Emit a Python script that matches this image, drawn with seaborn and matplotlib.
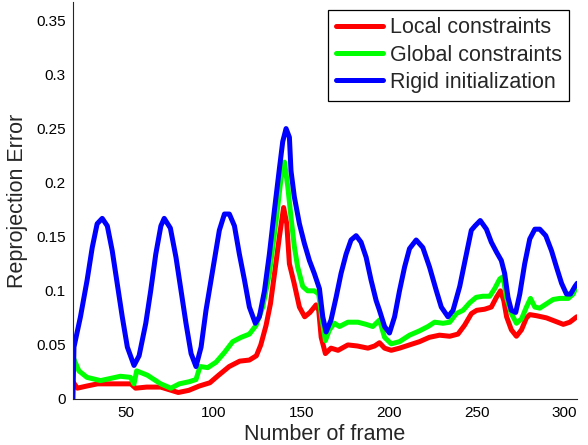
import numpy as np
import pandas as pd
import matplotlib
matplotlib.use("Agg")
import matplotlib.pyplot as plt
import seaborn as sns

series_names = ["Local constraints", "Global constraints", "Rigid initialization"]
series_colors = ["#ff0000", "#00ff00", "#0000ff"]

local_x = [20, 22.5, 28, 34, 41, 49, 53, 55.7, 62, 70, 76, 80, 86, 92, 98, 103, 109,
           115, 120.5, 124.5, 127, 130, 132.5, 135, 137.6, 140, 141.8, 143.3, 146, 149,
           152, 155, 158.5, 160, 161.4, 163.8, 167, 171, 176.6, 182, 188, 191.8, 194.6,
           197.5, 201.3, 206, 211.7, 217.4, 223, 228.8, 234.6, 239.3, 243, 247, 250,
           254.5, 258.3, 261.2, 263.5, 265.4, 267, 269.7, 272.6, 275.5, 278.3, 280.2,
           284, 289.7, 294.5, 299.3, 303, 307]
local_y = [0.016, 0.010, 0.012, 0.014, 0.014, 0.014, 0.014, 0.010, 0.011, 0.011, 0.008,
           0.006, 0.008, 0.012, 0.015, 0.022, 0.030, 0.035, 0.036, 0.040, 0.050, 0.068,
           0.088, 0.118, 0.150, 0.177, 0.162, 0.125, 0.107, 0.085, 0.076, 0.080, 0.087,
           0.082, 0.057, 0.042, 0.047, 0.045, 0.050, 0.049, 0.047, 0.049, 0.052, 0.047,
           0.045, 0.047, 0.050, 0.053, 0.057, 0.059, 0.058, 0.060, 0.068, 0.079, 0.082,
           0.083, 0.085, 0.094, 0.100, 0.091, 0.076, 0.064, 0.058, 0.064, 0.075, 0.078,
           0.077, 0.075, 0.072, 0.069, 0.071, 0.076]

global_x = [20, 23.4, 28, 35.7, 41.4, 47, 52.8, 54.8, 56.3, 62.4, 70, 75.8, 80.6, 86.3,
            90.1, 92.4, 96.8, 101.5, 106.3, 111, 115.8, 120.5, 124.3, 128.1, 131.9,
            135.7, 138.6, 140.5, 142.4, 144.2, 146.1, 148, 150.9, 153.7, 157.5, 160,
            161.9, 163.8, 166.1, 169, 171.8, 176.6, 182.3, 187, 190.8, 194.6, 197.5,
            201.3, 206, 211.7, 217.4, 222.2, 226, 230.8, 234.6, 238.4, 242.2, 246,
            249.7, 253.5, 257.4, 260.2, 263.1, 265, 266.9, 269.7, 272.6, 275.5, 278.3,
            280.6, 283.1, 285.9, 289.7, 293.5, 297.3, 302.1, 304.9, 307]
global_y = [0.039, 0.026, 0.020, 0.017, 0.019, 0.021, 0.020, 0.014, 0.026, 0.022, 0.014,
            0.010, 0.014, 0.016, 0.018, 0.030, 0.029, 0.034, 0.043, 0.053, 0.057, 0.060,
            0.068, 0.085, 0.116, 0.165, 0.205, 0.219, 0.196, 0.168, 0.141, 0.122, 0.104,
            0.100, 0.100, 0.097, 0.073, 0.054, 0.064, 0.070, 0.067, 0.071, 0.071, 0.069,
            0.067, 0.073, 0.057, 0.051, 0.053, 0.059, 0.063, 0.067, 0.071, 0.070, 0.071,
            0.079, 0.082, 0.089, 0.094, 0.095, 0.095, 0.102, 0.111, 0.113, 0.094, 0.079,
            0.070, 0.074, 0.085, 0.093, 0.085, 0.084, 0.088, 0.092, 0.093, 0.093, 0.097,
            0.105]

rigid_x = [20, 20.6, 24.3, 28.1, 31, 33.8, 36.7, 39.6, 42.4, 45.3, 48.1, 51, 54.8, 57.7,
           61.5, 64.3, 67.2, 70.1, 72, 75.5, 78.7, 81.6, 84.4, 87.3, 90.1, 93, 95.8,
           99.6, 103.4, 106.3, 109.1, 112, 114.8, 117.7, 120.5, 123.9, 126.2, 129.1,
           131.9, 134.8, 137.6, 139.5, 141.4, 143.3, 144.2, 146.1, 149, 151.8, 154.7,
           157.5, 160.4, 162.3, 164.2, 167, 169.9, 172.7, 175.6, 178.4, 181.3, 184.1,
           187, 189.8, 192.7, 194.6, 197.5, 200.3, 203.2, 206, 208.9, 211.7, 215.5,
           219.3, 223.1, 227, 229.8, 233.6, 236.5, 240.3, 244.1, 246.9, 249, 252, 255.5,
           258.3, 261.2, 264, 265.9, 267.8, 269.7, 272.2, 274.5, 277.3, 280.2, 283.1,
           285.9, 289.3, 292.6, 295.4, 298.3, 301.1, 303.4, 305.9, 307.2]
rigid_y = [0.0, 0.048, 0.076, 0.110, 0.140, 0.162, 0.167, 0.160, 0.137, 0.106, 0.076,
           0.048, 0.031, 0.040, 0.070, 0.100, 0.134, 0.160, 0.167, 0.158, 0.131, 0.100,
           0.070, 0.042, 0.030, 0.048, 0.082, 0.119, 0.156, 0.171, 0.171, 0.160, 0.134,
           0.110, 0.085, 0.070, 0.076, 0.100, 0.134, 0.175, 0.213, 0.238, 0.250, 0.242,
           0.211, 0.187, 0.162, 0.144, 0.128, 0.116, 0.102, 0.076, 0.062, 0.073, 0.094,
           0.116, 0.134, 0.147, 0.151, 0.145, 0.131, 0.110, 0.091, 0.082, 0.067, 0.061,
           0.076, 0.100, 0.122, 0.139, 0.147, 0.140, 0.122, 0.100, 0.085, 0.076, 0.082,
           0.104, 0.134, 0.156, 0.160, 0.165, 0.157, 0.145, 0.136, 0.128, 0.116, 0.094,
           0.082, 0.080, 0.097, 0.125, 0.148, 0.157, 0.157, 0.151, 0.137, 0.122, 0.107,
           0.097, 0.097, 0.104, 0.107]

x_ticks = [50, 100, 150, 200, 250, 300]
y_ticks = [0, 0.05, 0.1, 0.15, 0.2, 0.25, 0.3, 0.35]
y_tick_labels = ["0", "0.05", "0.1", "0.15", "0.2", "0.25", "0.3", "0.35"]

frames = []
for name, xs, ys in zip(series_names, [local_x, global_x, rigid_x], [local_y, global_y, rigid_y]):
    frames.append(pd.DataFrame({"frame": xs, "error": ys, "method": name}))
df = pd.concat(frames, ignore_index=True)

sns.set_style("white")
plt.rcParams["font.family"] = ["Liberation Sans", "DejaVu Sans"]

fig = plt.figure(figsize=(5.88, 4.45), dpi=100)
ax = fig.add_axes([0.124, 0.1034, 0.857, 0.892])

sns.lineplot(data=df, x="frame", y="error", hue="method", hue_order=series_names,
             palette=series_colors, estimator=None, sort=False, linewidth=3.6, ax=ax,
             solid_joinstyle="round", solid_capstyle="round")

ax.set_xlim(20, 307)
ax.set_ylim(0, 0.367)
ax.set_xticks(x_ticks)
ax.set_xticklabels([str(t) for t in x_ticks])
ax.set_yticks(y_ticks)
ax.set_yticklabels(y_tick_labels)
ax.tick_params(direction="in", length=4, width=0.8, labelsize=11, colors="#262626",
               labelcolor="black", pad=5)
for s in ["top", "right"]:
    ax.spines[s].set_visible(False)
for s in ["left", "bottom"]:
    ax.spines[s].set_color("#262626")
    ax.spines[s].set_linewidth(0.8)

ax.set_xlabel("Number of frame", fontsize=15.5, labelpad=3)
ax.set_ylabel("Reprojection Error", fontsize=15.5, labelpad=6)

leg = ax.legend(loc="upper right", fontsize=15.5, frameon=True, fancybox=False,
                edgecolor="black", framealpha=1, handlelength=2.2, handletextpad=0.3,
                labelspacing=0.3, borderpad=0.35, borderaxespad=0.35)
leg.get_frame().set_linewidth(0.9)
for line in leg.get_lines():
    line.set_linewidth(3.6)

fig.savefig("out.png", dpi=100)
